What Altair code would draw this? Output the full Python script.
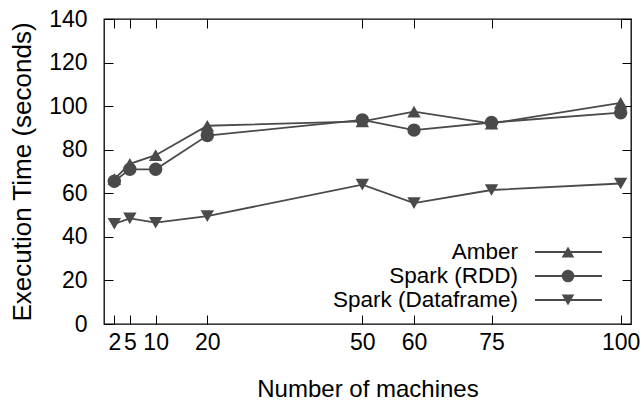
import altair as alt
import pandas as pd

machines = [2, 5, 10, 20, 50, 60, 75, 100]
amber = [66.5, 73.5, 77.5, 91, 93, 97.5, 92, 101.5]
spark_rdd = [65.5, 71, 71, 86.5, 93.7, 89, 92.5, 97]
spark_df = [46, 48.5, 46.5, 49.5, 64, 55.5, 61.5, 64.5]
series = ["Amber", "Spark (RDD)", "Spark (Dataframe)"]
shapes = ["triangle-up", "circle", "triangle-down"]
x_ticks = [2, 5, 10, 20, 50, 60, 75, 100]
y_ticks = [0, 20, 40, 60, 80, 100, 120, 140]

rows = []
for name, vals in zip(series, [amber, spark_rdd, spark_df]):
    for m, v in zip(machines, vals):
        rows.append({"machines": m, "time": v, "series": name})
data = pd.DataFrame(rows)

FONT = "Liberation Sans"
COLOR = "#4a4a4a"
W, H = 527, 305

xscale = alt.Scale(domain=[0, 102], nice=False, zero=False)
yscale = alt.Scale(domain=[0, 140], nice=False)
shape_scale = alt.Scale(domain=series, range=shapes)

x_axis = alt.Axis(values=x_ticks, title="Number of machines", offset=-9, tickSize=9,
                  domain=False, grid=False, labelPadding=7, labelOverlap=False,
                  labelFlush=False, titlePadding=23, titleFontSize=24)
y_axis = alt.Axis(values=y_ticks, title="Execution Time (seconds)", offset=-9, tickSize=9,
                  domain=False, grid=False, labelPadding=17, labelOverlap=False,
                  labelFlush=False, titlePadding=13, titleFontSize=26)

base = alt.Chart(data)

lines = base.mark_line(color=COLOR, strokeWidth=1.8).encode(
    x=alt.X("machines:Q", scale=xscale, axis=x_axis),
    y=alt.Y("time:Q", scale=yscale, axis=y_axis),
    detail="series:N",
)

points = base.mark_point(filled=True, color=COLOR, opacity=1, size=180).encode(
    x=alt.X("machines:Q", scale=xscale, axis=None),
    y=alt.Y("time:Q", scale=yscale, axis=None),
    shape=alt.Shape("series:N", scale=shape_scale, legend=None),
)

mirror = base.mark_line(opacity=0).encode(
    x=alt.X("machines:Q", scale=xscale,
            axis=alt.Axis(orient="top", values=x_ticks, labels=False, title=None,
                          offset=-9, tickSize=9, domain=False, grid=False)),
    y=alt.Y("time:Q", scale=yscale,
            axis=alt.Axis(orient="right", values=y_ticks, labels=False, title=None,
                          offset=-9, tickSize=9, domain=False, grid=False)),
    detail="series:N",
)

# legend (inside, bottom right): label, sample line, marker
legend_layers = []
row_y = [233, 257, 281]
for name, shp, yy in zip(series, shapes, row_y):
    ld = alt.Chart(pd.DataFrame({"series": [name]}))
    legend_layers.append(
        ld.mark_text(align="right", baseline="middle", font=FONT, fontSize=22.5,
                     color="black").encode(
            x=alt.value(414), y=alt.value(yy), text="series:N")
    )
    legend_layers.append(
        ld.mark_rule(color=COLOR, strokeWidth=1.8).encode(
            x=alt.value(431), x2=alt.value(498), y=alt.value(yy))
    )
    legend_layers.append(
        ld.mark_point(filled=True, color=COLOR, opacity=1, size=160, shape=shp).encode(
            x=alt.value(464), y=alt.value(yy))
    )

chart = alt.layer(lines, points, mirror, *legend_layers).resolve_axis(
    x="independent", y="independent"
).properties(
    width=W, height=H,
    autosize=alt.AutoSizeParams(type="none"),
    padding={"left": 104, "top": 19, "right": 13, "bottom": 77},
    background="white",
).configure_view(
    stroke="black", strokeWidth=1.3
).configure_axis(
    labelFont=FONT, titleFont=FONT, labelFontSize=23,
    labelColor="black", titleColor="black", tickColor="black", tickWidth=1,
    titleFontWeight="normal",
)

chart.save("out.html", embed_options={"renderer": "svg", "actions": False})
